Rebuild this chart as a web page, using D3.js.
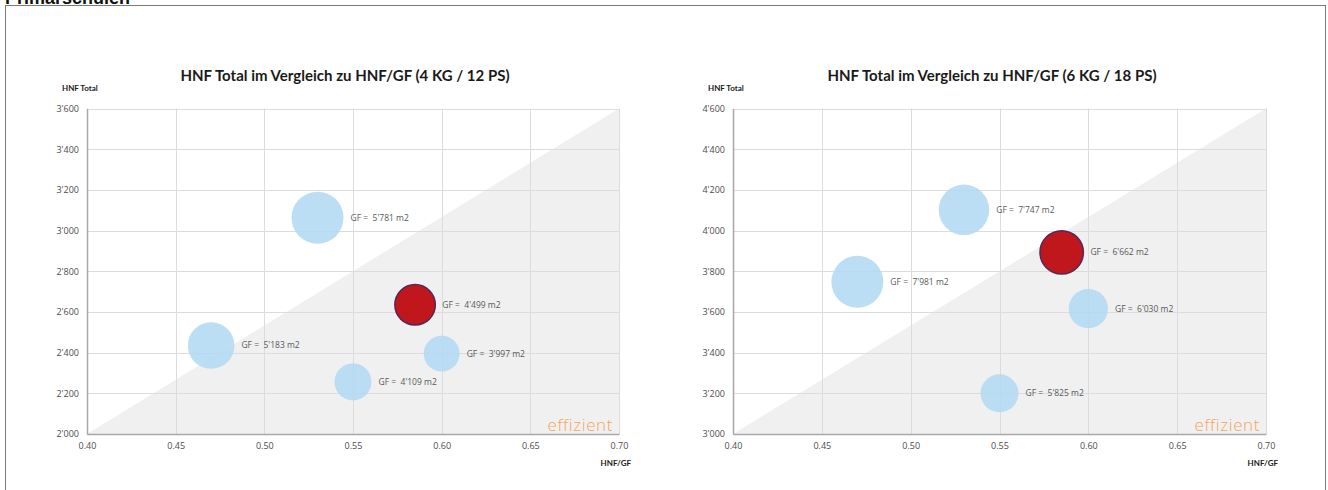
<!DOCTYPE html>
<html>
<head>
<meta charset="utf-8">
<script src="https://cdn.jsdelivr.net/npm/d3@7/dist/d3.min.js"></script>
<style>
  html, body { margin: 0; padding: 0; background: #fff; }
  svg { display: block; }
  text { font-family: Lato, "Open Sans", sans-serif; }
</style>
</head>
<body>
<svg id="chart" width="1328" height="490"></svg>
<script>
// Section heading
const sectionTitle = "Primarschulen";

// Chart 1: 4 KG / 12 PS
const title4 = "HNF Total im Vergleich zu HNF/GF (4 KG / 12 PS)";
const hnfGf4 = [0.53, 0.585, 0.47, 0.60, 0.55];
const hnfTotal4 = [3063, 2635, 2435, 2395, 2256];
const gf4 = [5781, 4499, 5183, 3997, 4109];
const highlight4 = [false, true, false, false, false];
const yTicks4 = [2000, 2200, 2400, 2600, 2800, 3000, 3200, 3400, 3600];

// Chart 2: 6 KG / 18 PS
const title6 = "HNF Total im Vergleich zu HNF/GF (6 KG / 18 PS)";
const hnfGf6 = [0.53, 0.585, 0.47, 0.60, 0.55];
const hnfTotal6 = [4102, 3893, 3748, 3616, 3200];
const gf6 = [7747, 6662, 7981, 6030, 5825];
const highlight6 = [false, true, false, false, false];
const yTicks6 = [3000, 3200, 3400, 3600, 3800, 4000, 4200, 4400, 4600];

// Shared x axis
const xTicks = [0.40, 0.45, 0.50, 0.55, 0.60, 0.65, 0.70];
const yAxisLabel = "HNF Total";
const xAxisLabel = "HNF/GF";
const zoneLabel = "effizient";

const svg = d3.select("#chart");
const apos = v => d3.format(",")(v).replace(/,/g, "'");

// outer frame
svg.append("rect")
  .attr("x", 5.5).attr("y", 5.5)
  .attr("width", 1320).attr("height", 500)
  .attr("fill", "none").attr("stroke", "#7a7a7a").attr("stroke-width", 1);

svg.append("text")
  .attr("x", 5).attr("y", 4)
  .style("font-family", "'Liberation Sans', Arial, sans-serif")
  .style("font-weight", "bold").style("font-size", "18px")
  .attr("fill", "#111")
  .text(sectionTitle);

function drawChart(cfg) {
  const g = svg.append("g");
  const x = d3.scaleLinear().domain([xTicks[0], xTicks[xTicks.length - 1]])
    .range([cfg.left, cfg.right]);
  const y = d3.scaleLinear().domain([cfg.yTicks[0], cfg.yTicks[cfg.yTicks.length - 1]])
    .range([cfg.bottom, cfg.top]);
  const rScale = d3.scaleLinear().domain([0, d3.max(cfg.gf)]).range([0, 26]);

  const x0 = x.domain()[0], x1 = x.domain()[1];
  const y0 = y.domain()[0], y1 = y.domain()[1];

  // efficiency zone: lower-right triangle below the diagonal
  const zone = [[x0, y0], [x1, y1], [x1, y0]];
  g.append("path")
    .attr("d", d3.line().x(d => x(d[0])).y(d => y(d[1]))(zone) + "Z")
    .attr("fill", "#f0f0f0");

  // grid
  g.append("g").selectAll("line").data(cfg.yTicks).join("line")
    .attr("x1", x(x0)).attr("x2", x(x1))
    .attr("y1", d => Math.round(y(d)) + 0.5).attr("y2", d => Math.round(y(d)) + 0.5)
    .attr("stroke", "#dcdcdc").attr("stroke-width", 1);
  g.append("g").selectAll("line").data(xTicks).join("line")
    .attr("x1", d => Math.round(x(d)) + 0.5).attr("x2", d => Math.round(x(d)) + 0.5)
    .attr("y1", y(y0)).attr("y2", y(y1))
    .attr("stroke", "#dcdcdc").attr("stroke-width", 1);

  // axes
  const yAxis = d3.axisLeft(y).tickValues(cfg.yTicks).tickFormat(apos).tickSize(0).tickPadding(8);
  const ya = g.append("g").attr("transform", `translate(${x(x0)},0)`).call(yAxis);
  const xAxis = d3.axisBottom(x).tickValues(xTicks).tickFormat(d3.format(".2f")).tickSize(0).tickPadding(9);
  const xa = g.append("g").attr("transform", `translate(0,${y(y0)})`).call(xAxis);
  [ya, xa].forEach(a => {
    a.select(".domain").attr("stroke", "#a8a8a8").attr("stroke-width", 1.5);
    a.selectAll("text").attr("fill", "#4d4d4d").style("font-size", "9px")
      .style("font-family", "'Open Sans', sans-serif");
  });

  // efficiency label
  g.append("text")
    .attr("x", x(x1) - 6).attr("y", y(y0) - 3)
    .attr("text-anchor", "end")
    .attr("fill", "#f4a55a")
    .style("font-family", "'Open Sans', sans-serif")
    .style("font-weight", 300).style("font-size", "17px")
    .style("letter-spacing", "0.6px")
    .text(zoneLabel);

  // bubbles
  const data = cfg.gf.map((v, i) => ({
    xv: cfg.hnfGf[i], yv: cfg.hnfTotal[i], gf: v, hi: cfg.highlight[i]
  }));
  const b = g.append("g").selectAll("g").data(data).join("g");
  b.append("circle")
    .attr("cx", d => x(d.xv)).attr("cy", d => y(d.yv))
    .attr("r", d => rScale(d.gf))
    .attr("fill", d => d.hi ? "#c0171d" : "#b3d9f2")
    .attr("fill-opacity", d => d.hi ? 1 : 0.88)
    .attr("stroke", d => d.hi ? "#54285a" : "none")
    .attr("stroke-width", 1.5);
  b.append("text")
    .attr("x", d => x(d.xv) + rScale(d.gf) + 7)
    .attr("y", d => y(d.yv))
    .attr("dy", "0.35em")
    .attr("fill", "#595959")
    .style("font-family", "'Open Sans', sans-serif")
    .style("font-size", "8.5px")
    .attr("xml:space", "preserve")
    .text(d => `GF =  ${apos(d.gf)} m2`);

  // titles
  g.append("text")
    .attr("x", cfg.titleX).attr("y", 81)
    .attr("text-anchor", "middle")
    .attr("fill", "#1a1a1a")
    .style("font-weight", "bold").style("font-size", "15px")
    .text(cfg.title);
  g.append("text")
    .attr("x", x(x0) - 25).attr("y", 91)
    .attr("fill", "#1a1a1a")
    .style("font-weight", "bold").style("font-size", "8px")
    .text(yAxisLabel);
  g.append("text")
    .attr("x", x(x1) + 12).attr("y", 466)
    .attr("text-anchor", "end")
    .attr("fill", "#1a1a1a")
    .style("font-weight", "bold").style("font-size", "8px")
    .text(xAxisLabel);
}

drawChart({
  left: 87, right: 619, top: 108.5, bottom: 434, titleX: 345,
  title: title4, hnfGf: hnfGf4, hnfTotal: hnfTotal4, gf: gf4,
  highlight: highlight4, yTicks: yTicks4
});
drawChart({
  left: 733, right: 1266, top: 108.5, bottom: 434, titleX: 992,
  title: title6, hnfGf: hnfGf6, hnfTotal: hnfTotal6, gf: gf6,
  highlight: highlight6, yTicks: yTicks6
});
</script>
</body>
</html>
